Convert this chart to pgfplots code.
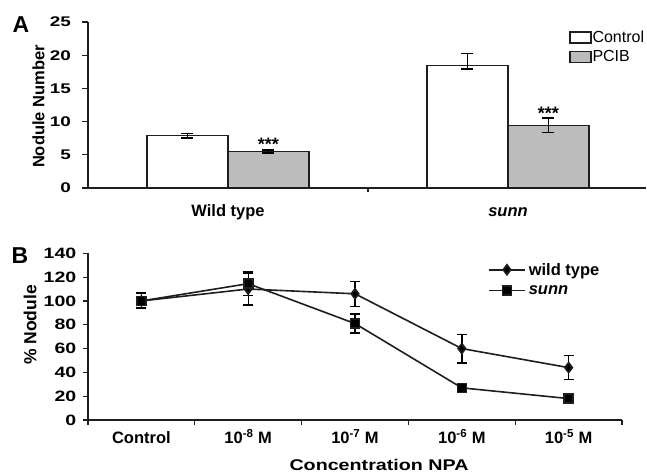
\documentclass[border=0pt]{standalone}
\usepackage{fontspec}
\setmainfont{Liberation Sans}
\usepackage{pgfplots}
\pgfplotsset{compat=1.18}
\definecolor{barg}{RGB}{188,188,188}
\definecolor{ax}{RGB}{30,30,30}
\begin{document}
\begin{tikzpicture}[x=1pt,y=1pt]
\path[use as bounding box] (0,0) rectangle (647,472);
\node[font=\fontsize{23}{25}\selectfont\bfseries] at (21,447) {A};
\node[font=\fontsize{23}{25}\selectfont\bfseries] at (20,216.5) {B};
% Panel A
\begin{axis}[
 at={(88pt,284pt)}, anchor=south west, scale only axis,
 width=558pt, height=166pt,
 xmin=-0.5, xmax=1.493, ymin=0, ymax=25,
 axis x line*=bottom, axis y line*=left,
 axis line style={line width=1.4pt, ax},
 ytick={0,5,...,25},
 xtick={0,1}, xticklabels={Wild type,\textit{sunn}},
 major x tick style={draw=none},
 minor xtick={0.5},
 tick align=outside, major tick length=6pt, minor tick length=4pt,
 tick style={line width=1.2pt, ax},
 /pgf/number format/assume math mode=true,
 yticklabel style={font=\fontsize{14}{16}\selectfont\bfseries, xscale=1.35, anchor=east, inner sep=0pt, xshift=-8pt},
 xticklabel style={font=\fontsize{16.5}{18}\selectfont\bfseries, anchor=base, inner sep=0pt, yshift=-22.7pt},
 ylabel={Nodule Number},
 ylabel style={at={(axis description cs:-0.0887,0.491)}, anchor=center, rotate=0, font=\fontsize{16.5}{18}\selectfont\bfseries},
 ybar=0pt, bar width=81pt,
 error bars/error bar style={line width=1.4pt, black},
 error bars/error mark options={rotate=90, mark size=6pt, line width=1.4pt, black},
 legend style={at={(axis cs:1.218,23.85)}, anchor=north west, draw=none, fill=none,
   font=\fontsize{16}{18}\selectfont, inner sep=0pt, row sep=4.5pt,
   nodes={inner sep=1pt, anchor=west}},
 legend image code/.code={\draw[#1, line width=1.3pt] (0pt,-5.5pt) rectangle (21pt,5.5pt);},
 clip=false,
]
\addplot[draw=ax, line width=1.3pt, fill=white,
  error bars/.cd, y dir=both, y explicit]
  coordinates {(0,7.9) +- (0,0.35) (1,18.4) += (0,1.9) -= (0,0.5)};
\addplot[draw=ax, line width=1.3pt, fill=barg,
  error bars/.cd, y dir=both, y explicit]
  coordinates {(0,5.5) +- (0,0.2) (1,9.45) +- (0,1.1)};
\legend{Control,PCIB}
\node[font=\fontsize{18}{18}\selectfont\bfseries, anchor=base] at ([xshift=40.5pt]axis cs:0,5.6) {***};
\node[font=\fontsize{18}{18}\selectfont\bfseries, anchor=base] at ([xshift=40.5pt]axis cs:1,10.3) {***};
\end{axis}
% Panel B
\begin{axis}[
 at={(88pt,52pt)}, anchor=south west, scale only axis,
 width=534pt, height=166.7pt,
 xmin=0, xmax=5, ymin=0, ymax=140,
 axis x line*=bottom, axis y line*=left,
 axis line style={line width=1.4pt, ax},
 ytick={0,20,...,140},
 xtick={0.5,1.5,2.5,3.5,4.5},
 xticklabels={Control,10\textsuperscript{-8} M,10\textsuperscript{-7} M,10\textsuperscript{-6} M,10\textsuperscript{-5} M},
 major x tick style={draw=none},
 minor xtick={0,1,2,3,4,5},
 tick align=outside, major tick length=5pt, minor tick length=5pt,
 tick style={line width=1.2pt, ax},
 /pgf/number format/assume math mode=true,
 yticklabel style={font=\fontsize{15}{17}\selectfont\bfseries, xscale=1.3, anchor=east, inner sep=0pt, xshift=-5pt},
 xticklabel style={font=\fontsize{16.5}{18}\selectfont\bfseries, anchor=base, inner sep=0pt, yshift=-18.3pt},
 ylabel={\% Nodule},
 ylabel style={at={(axis description cs:-0.1086,0.57)}, anchor=center, rotate=0, font=\fontsize{17.5}{19}\selectfont\bfseries},
 xlabel={Concentration NPA},
 xlabel style={at={(axis description cs:0.545,-0.30)}, anchor=base, font=\fontsize{15.5}{17}\selectfont\bfseries, xscale=1.27},
 error bars/error bar style={line width=1.4pt, black},
 error bars/error mark options={rotate=90, mark size=5pt, line width=1.4pt, black},
 legend style={at={(axis cs:3.745,134.5)}, anchor=north west, draw=none, fill=none,
   font=\fontsize{16.5}{18}\selectfont\bfseries, inner sep=0pt, row sep=3pt,
   nodes={inner sep=3pt, anchor=west}},
 legend image code/.code={\draw[#1, mark repeat=2, mark phase=2] plot coordinates {(0pt,0pt)(18pt,0pt)(36pt,0pt)};},
 clip=false,
]
\addplot[ax, line width=1.6pt, mark=diamond*, mark size=5pt, mark options={solid, fill=black},
  error bars/.cd, y dir=both, y explicit]
  coordinates {(0.5,100) +- (0,6.5) (1.5,110) +- (0,13.5) (2.5,106) +- (0,10.5) (3.5,60) +- (0,12) (4.5,44) +- (0,10)};
\addplot[ax, line width=1.6pt, mark=square*, mark size=4.5pt, mark options={solid, fill=black},
  error bars/.cd, y dir=both, y explicit]
  coordinates {(0.5,100) +- (0,6) (1.5,114.5) +- (0,10) (2.5,81) +- (0,8) (3.5,27) +- (0,2) (4.5,18) +- (0,2.5)};
\legend{wild type,\textit{sunn}}
\end{axis}
\end{tikzpicture}
\end{document}
